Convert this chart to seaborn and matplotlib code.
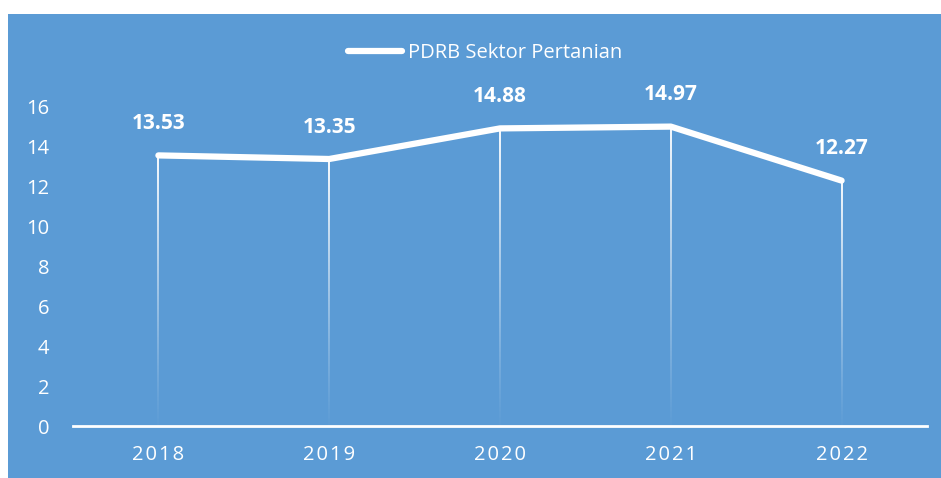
import matplotlib
matplotlib.use("Agg")
import matplotlib.pyplot as plt
import seaborn as sns
import numpy as np
import pandas as pd
from matplotlib.patches import Rectangle
from matplotlib.lines import Line2D
from matplotlib.colors import LinearSegmentedColormap

years = ["2018", "2019", "2020", "2021", "2022"]
values = [13.53, 13.35, 14.88, 14.97, 12.27]
yticks = [0, 2, 4, 6, 8, 10, 12, 14, 16]
series_name = "PDRB Sektor Pertanian"

sns.set_style("white")
plt.rcParams['font.family'] = ['Open Sans', 'DejaVu Sans']

BLUE = "#5B9BD5"
fig = plt.figure(figsize=(9.41, 4.78), dpi=100)
fig.patch.set_facecolor("white")
bg = Rectangle((8/941, 0), 1 - 8/941, 1 - 14/478, transform=fig.transFigure,
               facecolor=BLUE, edgecolor="none", zorder=-10)
fig.add_artist(bg)
ax = fig.add_axes([73/941, 52/478, 854/941, 320/478])
ax.set_facecolor("none")
ax.set_zorder(1)

df = pd.DataFrame({"year": years, "value": values})
df["x"] = np.arange(len(years))

ax.set_xlim(-0.5, len(years) - 0.5)
ax.set_ylim(0, 16)

# gradient drop lines (white fading to transparent towards the axis)
cmap = LinearSegmentedColormap.from_list("fade", [(1, 1, 1, 0.02), (1, 1, 1, 0.95)])
grad = np.linspace(0, 1, 256).reshape(-1, 1) ** 1.2
half_w = 1.0 / 171.0  # ~2 px wide
for xi, v in zip(df["x"], df["value"]):
    ax.imshow(grad, cmap=cmap, aspect="auto", origin="lower",
              extent=[xi - half_w, xi + half_w, 0, v], zorder=2, interpolation="bilinear")

sns.lineplot(data=df, x="x", y="value", ax=ax, color="white", lw=4.5,
             solid_capstyle="round", solid_joinstyle="round", zorder=4, legend=False)

for xi, v in zip(df["x"], df["value"]):
    ax.annotate(f"{v:.2f}", (xi, v), xytext=(0, 23), textcoords="offset points",
                ha="center", va="center", color="white", fontsize=15, fontweight="bold")

ax.set_xlim(-0.5, len(years) - 0.5)
ax.set_ylim(0, 16)
ax.set_yticks(yticks)
ax.set_yticklabels([str(t) for t in yticks])
ax.set_xticks(df["x"])
ax.set_xticklabels(["\u200a".join(y) for y in years])
ax.tick_params(axis="y", length=0, pad=17, labelsize=14.5, labelcolor="white")
ax.tick_params(axis="x", length=0, pad=14, labelsize=14.5, labelcolor="white")
ax.set_xlabel("")
ax.set_ylabel("")
for s in ["top", "right", "left"]:
    ax.spines[s].set_visible(False)
ax.spines["bottom"].set_color("white")
ax.spines["bottom"].set_linewidth(2)
ax.spines["bottom"].set_zorder(5)

handle = Line2D([], [], color="white", lw=4.5, solid_capstyle="round")
leg = fig.legend([handle], [series_name], loc="center", bbox_to_anchor=(485/941, 1 - 53/478),
                 frameon=False, fontsize=14.5, handlelength=2.7, handletextpad=0.3,
                 labelcolor="white")
leg.set_zorder(2)

fig.savefig("out.png", dpi=100)
